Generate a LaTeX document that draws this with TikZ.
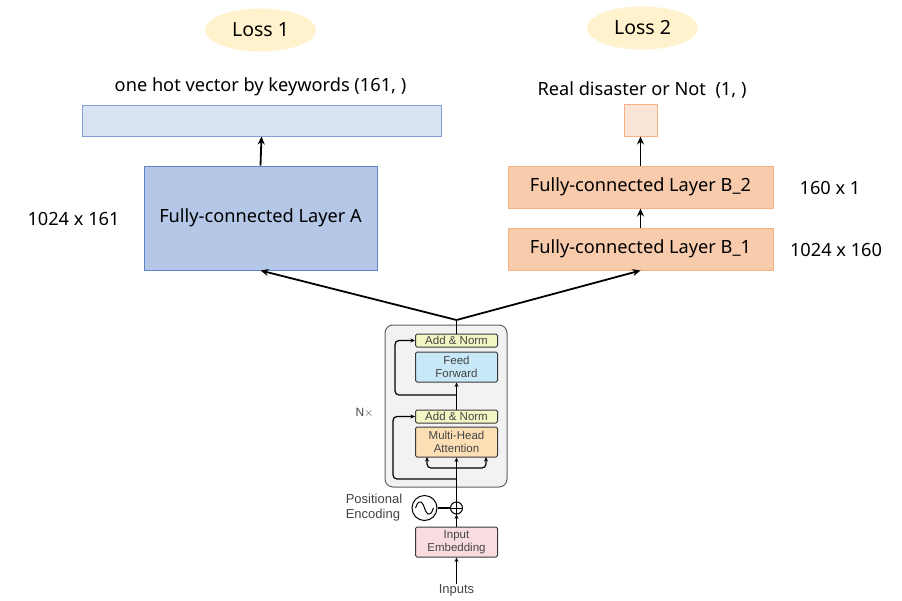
\documentclass[tikz,border=0pt]{standalone}
\usepackage{fontspec}
\setmainfont{Noto Sans}
\newfontfamily\tfont{Liberation Sans}
\usetikzlibrary{arrows.meta,shapes.geometric,calc}
\definecolor{lossY}{HTML}{FFF2CC}
\definecolor{vecAfill}{HTML}{DAE3F3}
\definecolor{vecAdraw}{HTML}{7F9ED8}
\definecolor{fcAfill}{HTML}{B4C7E7}
\definecolor{fcAdraw}{HTML}{5F84C8}
\definecolor{vecBfill}{HTML}{FBE5D6}
\definecolor{fcBfill}{HTML}{F8CBAD}
\definecolor{fcBdraw}{HTML}{F4B183}
\definecolor{tgray}{HTML}{F2F2F2}
\definecolor{tdraw}{HTML}{3A3A3A}
\definecolor{anfill}{HTML}{F3F6C4}
\definecolor{fffill}{HTML}{C7E8F6}
\definecolor{mhafill}{HTML}{FCDFB5}
\definecolor{embfill}{HTML}{F9DCE0}
\definecolor{ttxt}{HTML}{444444}
\tikzset{
  lossnode/.style={ellipse, fill=lossY, minimum width=111pt, minimum height=43pt, inner sep=0pt, font=\fontsize{19.5}{22}\selectfont},
  lbl/.style={font=\fontsize{18.2}{21}\selectfont, inner sep=0pt},
  boxA/.style={rectangle, line width=1pt, inner sep=0pt},
  bigarrow/.style={line width=1.8pt, -{Stealth[length=8pt,width=7pt]}},
  tbox/.style={rectangle, rounded corners=1.5pt, draw=tdraw, line width=1pt, minimum width=82pt, inner sep=0pt, align=center, text=ttxt, font=\tfont\fontsize{11.5}{12.5}\selectfont},
  tline/.style={line width=1.2pt, draw=black},
  tarrow/.style={line width=1.2pt, -{Stealth[length=4.5pt,width=4pt]}},
  ttext/.style={font=\tfont\fontsize{13}{15}\selectfont, inner sep=0pt, text=ttxt}
}
\begin{document}
\begin{tikzpicture}[x=1pt,y=-1pt]
\useasboundingbox (0,0) rectangle (902,600);
% Loss ellipses
\node[lossnode] (loss1) at (260.5,30) {Loss 1};
\node[lossnode] (loss2) at (642.5,28) {Loss 2};
% left branch
\node[lbl] (labA) at (260.5,87) {one hot vector by keywords (161, )};
\node[boxA, draw=vecAdraw, fill=vecAfill, minimum width=359pt, minimum height=31pt] (vecA) at (261.5,120.5) {};
\node[boxA, draw=fcAdraw, fill=fcAfill, minimum width=233pt, minimum height=104pt, font=\fontsize{18.2}{21}\selectfont] (fcA) at (260.5,218) {Fully-connected Layer A};
\node[lbl] (dimA) at (73.5,219) {1024 x 161};
% right branch
\node[lbl] (labB) at (642,90) {Real disaster or Not\ \ (1, )};
\node[boxA, draw=fcBdraw, fill=vecBfill, minimum width=33pt, minimum height=32pt] (vecB) at (640.5,120) {};
\node[boxA, draw=fcBdraw, fill=fcBfill, minimum width=265pt, minimum height=42pt, font=\fontsize{18.2}{21}\selectfont] (fcB2) at (640.5,187) {Fully-connected Layer B\_2};
\node[boxA, draw=fcBdraw, fill=fcBfill, minimum width=265pt, minimum height=42pt, font=\fontsize{18.2}{21}\selectfont] (fcB1) at (640.5,249) {Fully-connected Layer B\_1};
\node[lbl] (dimB2) at (830,188) {160 x 1};
\node[lbl] (dimB1) at (836,250) {1024 x 160};
% arrows to outputs
\draw[bigarrow] (fcA.north) -- (vecA.south);
\draw[bigarrow] (fcB2.north) -- (vecB.south);
\draw[bigarrow] (fcB1.north) -- (fcB2.south);
% transformer
\node[rectangle, rounded corners=8pt, draw=tdraw!80, fill=tgray, line width=1pt, minimum width=122pt, minimum height=162pt] (outer) at (446,406) {};
\node[tbox, fill=anfill, minimum height=13pt] (an1) at (456.5,340.5) {Add \& Norm};
\node[tbox, fill=fffill, minimum height=30pt] (ff) at (456.5,367) {Feed\\Forward};
\node[tbox, fill=anfill, minimum height=13pt] (an2) at (456.5,416.5) {Add \& Norm};
\node[tbox, fill=mhafill, minimum height=30pt] (mha) at (456.5,442) {Multi-Head\\Attention};
\node[tbox, fill=embfill, minimum height=30pt] (emb) at (456.5,542) {Input\\Embedding};
\node[circle, draw=black, line width=1pt, minimum size=12pt, inner sep=0pt] (plus) at (456.5,508) {};
\node[circle, draw=black, line width=1pt, minimum size=25pt, inner sep=0pt] (sine) at (424.5,508) {};
\node[ttext] (inputs) at (456.5,590) {Inputs};
\node[ttext, font=\tfont\fontsize{12}{14}\selectfont] (nx) at (364.5,413) {N$\times$};
\node[ttext, align=left] (pe) at (374,507.5) {Positional\\Encoding};
% plus sign and sine wave
\draw[line width=0.9pt] (plus.north) -- (plus.south) (plus.west) -- (plus.east);
\draw[line width=1pt] ($(sine.center)+(-9,0)$) .. controls ($(sine.center)+(-5,-12)$) and ($(sine.center)+(-1,-4)$) .. (sine.center) .. controls ($(sine.center)+(1,4)$) and ($(sine.center)+(5,12)$) .. ($(sine.center)+(9,0)$);
% transformer connectors
\coordinate (split) at (456.5,320);
\coordinate (fk) at (456.5,468);
\coordinate (fkL) at (427,457);
\coordinate (fkR) at (486,457);
\coordinate (rlo) at (456.5,479);
\coordinate (rloL) at (393,479);
\coordinate (rhi) at (456.5,395);
\coordinate (rhiL) at (395,395);
\draw[tarrow] (inputs.north) -- (emb.south);
\draw[tarrow] (emb.north) -- (plus.south);
\draw[tarrow] (plus.north) -- (mha.south);
\draw[tline] (sine.east) -- (plus.west);
\draw[tarrow, rounded corners=4pt] (fk) -| (fkL);
\draw[tarrow, rounded corners=4pt] (fk) -| (fkR);
\draw[tarrow, rounded corners=4pt] (rlo) -- (rloL) |- (an2.west);
\draw[tarrow] (an2.north) -- (ff.south);
\draw[tarrow, rounded corners=4pt] (rhi) -- (rhiL) |- (an1.west);
\draw[tline] (an1.north) -- (split);
\draw[bigarrow] (split) -- (fcA.south);
\draw[bigarrow] (split) -- (fcB1.south);
\end{tikzpicture}
\end{document}
